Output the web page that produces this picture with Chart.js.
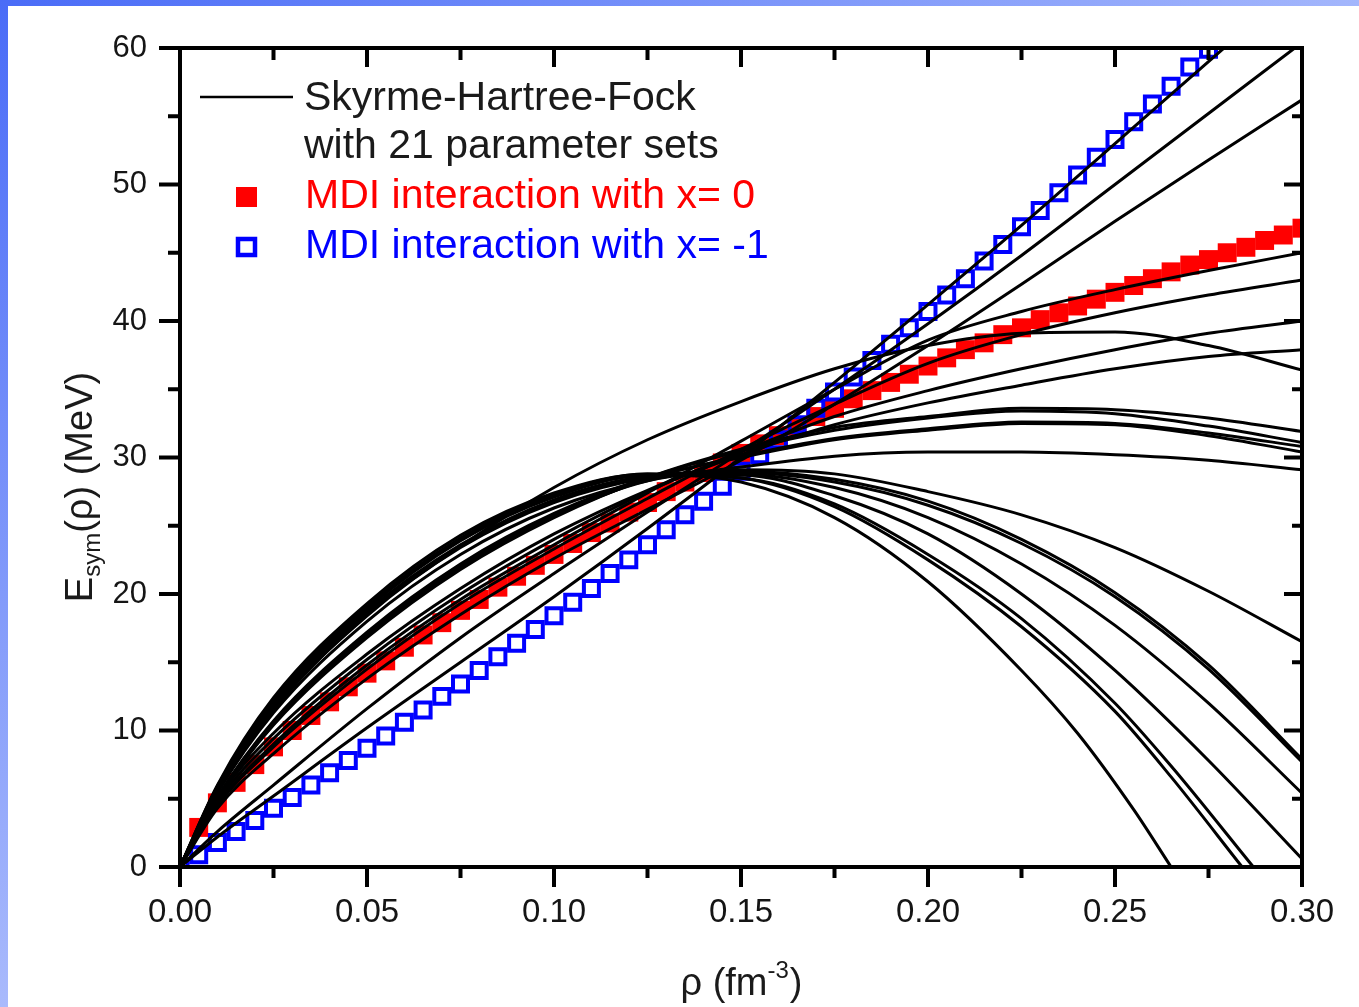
<!DOCTYPE html>
<html>
<head>
<meta charset="utf-8">
<script src="https://cdn.jsdelivr.net/npm/chart.js@4.4.1/dist/chart.umd.min.js"></script>
<style>
html,body{margin:0;padding:0;background:#fff;}
#wrap{position:relative;width:1359px;height:1007px;overflow:hidden;background:#fff;}
#c{position:absolute;left:0;top:0;}
.bt{position:absolute;left:0;top:0;width:1359px;height:6px;background:linear-gradient(90deg,#4a6cf7,#a3b6fc);}
.bl{position:absolute;left:0;top:0;width:8px;height:1007px;background:linear-gradient(#4a6cf7,#a9bafc);}
</style>
</head>
<body>
<div id="wrap"><canvas id="c" width="1359" height="1007"></canvas><div class="bt"></div><div class="bl"></div></div>
<script>
// ---------- data ----------
const X_TICKS = [0, 0.05, 0.10, 0.15, 0.20, 0.25, 0.30];
const Y_TICKS = [0, 10, 20, 30, 40, 50, 60];

// MDI markers (every 0.005 fm^-3)
const RHO_MDI = [0,0.005,0.01,0.015,0.02,0.025,0.03,0.035,0.04,0.045,0.05,0.055,0.06,0.065,0.07,0.075,0.08,0.085,0.09,0.095,0.1,0.105,0.11,0.115,0.12,0.125,0.13,0.135,0.14,0.145,0.15,0.155,0.16,0.165,0.17,0.175,0.18,0.185,0.19,0.195,0.2,0.205,0.21,0.215,0.22,0.225,0.23,0.235,0.24,0.245,0.25,0.255,0.26,0.265,0.27,0.275,0.28,0.285,0.29,0.295,0.3];
const E_MDI_X0 = [null,2.9,4.7,6.2,7.5,8.8,10.0,11.1,12.1,13.2,14.2,15.1,16.1,17.0,17.9,18.8,19.6,20.5,21.3,22.1,22.9,23.7,24.5,25.2,26.0,26.7,27.5,28.2,28.9,29.6,30.3,31.0,31.6,32.3,33.0,33.6,34.3,34.9,35.5,36.1,36.7,37.3,37.9,38.4,39.0,39.5,40.1,40.6,41.1,41.6,42.1,42.6,43.1,43.6,44.1,44.5,45.0,45.4,45.9,46.3,46.8];
const E_MDI_XM1 = [0,0.9,1.8,2.6,3.4,4.3,5.1,6.0,6.9,7.8,8.7,9.6,10.6,11.5,12.5,13.4,14.4,15.4,16.4,17.4,18.4,19.4,20.4,21.5,22.5,23.6,24.7,25.8,26.8,27.9,29.0,30.2,31.3,32.4,33.6,34.8,35.9,37.1,38.3,39.5,40.7,41.9,43.1,44.4,45.6,46.9,48.1,49.4,50.7,52.0,53.3,54.6,55.9,57.2,58.6,59.9,61.3,null,null,null,null];

// Skyrme-Hartree-Fock curves: [rho, Esym] pairs
const shf01 = [[0,0],[0.01,2.2],[0.025,5.2],[0.05,10.2],[0.075,15.0],[0.1,19.8],[0.125,24.8],[0.15,30.0],[0.175,35.5],[0.2,41.2],[0.225,47.0],[0.25,53.0],[0.275,59.0],[0.3,65.0]];
const shf02 = [[0,0],[0.01,2.6],[0.025,6.0],[0.05,11.6],[0.075,16.8],[0.1,21.5],[0.125,26.0],[0.15,30.4],[0.175,35.0],[0.2,39.8],[0.225,44.8],[0.25,50.0],[0.275,55.2],[0.3,60.4]];
const shf03 = [[0,0],[0.01,4.3],[0.025,8.3],[0.05,13.8],[0.075,18.5],[0.1,22.6],[0.125,26.2],[0.15,29.8],[0.175,33.9],[0.2,38.2],[0.225,42.7],[0.25,47.3],[0.275,51.8],[0.3,56.2]];
const shf04 = [[0,0],[0.01,4.6],[0.025,9.0],[0.05,14.8],[0.075,19.6],[0.1,23.6],[0.125,27.4],[0.15,31.2],[0.175,35.0],[0.2,38.6],[0.225,40.7],[0.25,42.3],[0.275,43.7],[0.3,45.0]];
const shf05 = [[0,0],[0.01,4.5],[0.025,8.8],[0.05,14.5],[0.075,19.3],[0.1,23.3],[0.125,27.0],[0.15,30.6],[0.175,33.9],[0.2,36.9],[0.225,39.0],[0.25,40.6],[0.275,41.9],[0.3,43.0]];
const shf06 = [[0,0],[0.01,4.8],[0.025,9.4],[0.05,15.2],[0.075,20.0],[0.1,24.0],[0.125,27.5],[0.15,30.4],[0.175,33.0],[0.2,34.9],[0.225,36.5],[0.25,37.9],[0.275,39.1],[0.3,40.0]];
const shf07 = [[0,0],[0.01,5.0],[0.025,9.8],[0.05,15.6],[0.075,20.4],[0.1,24.4],[0.125,27.6],[0.15,30.2],[0.175,32.4],[0.2,34.0],[0.225,35.3],[0.25,36.5],[0.275,37.4],[0.3,37.9]];
const shf08 = [[0,0],[0.01,5.5],[0.025,11.5],[0.05,18.5],[0.075,23.5],[0.1,27.8],[0.125,31.3],[0.15,34.1],[0.175,36.5],[0.2,38.2],[0.225,39.1],[0.25,39.2],[0.275,38.2],[0.3,36.4]];
const shf09 = [[0,0],[0.01,5.0],[0.025,10.4],[0.05,16.8],[0.075,21.8],[0.1,25.6],[0.125,28.5],[0.15,30.6],[0.175,32.2],[0.2,33.0],[0.225,33.6],[0.25,33.5],[0.275,32.9],[0.3,31.9]];
const shf10 = [[0,0],[0.01,5.0],[0.025,10.5],[0.05,17.0],[0.075,22.0],[0.1,25.8],[0.125,28.5],[0.15,30.5],[0.175,32.0],[0.2,32.9],[0.225,33.4],[0.25,33.2],[0.275,32.3],[0.3,31.1]];
const shf11 = [[0,0],[0.01,5.1],[0.025,10.7],[0.05,17.2],[0.075,22.2],[0.1,25.9],[0.125,28.5],[0.15,30.0],[0.175,31.3],[0.2,32.0],[0.225,32.5],[0.25,32.4],[0.275,31.6],[0.3,30.4]];
const shf12 = [[0,0],[0.01,5.1],[0.025,10.6],[0.05,17.1],[0.075,22.1],[0.1,25.8],[0.125,28.3],[0.15,29.3],[0.175,30.1],[0.2,30.4],[0.225,30.4],[0.25,30.2],[0.275,29.8],[0.3,29.1]];
const shf13 = [[0,0],[0.01,5.0],[0.025,10.5],[0.05,17.0],[0.075,22.0],[0.1,25.7],[0.125,28.4],[0.15,30.1],[0.175,31.4],[0.2,32.1],[0.225,32.6],[0.25,32.5],[0.275,31.8],[0.3,30.8]];
const shf14 = [[0,0],[0.01,5.4],[0.025,11.3],[0.05,18.0],[0.075,22.9],[0.1,26.3],[0.125,28.3],[0.15,29.1],[0.175,28.8],[0.2,27.5],[0.225,25.8],[0.25,23.4],[0.275,20.2],[0.3,16.5]];
const shf15 = [[0,0],[0.01,5.6],[0.025,11.7],[0.05,18.5],[0.075,23.5],[0.1,26.8],[0.125,28.6],[0.15,29.0],[0.175,28.4],[0.2,26.8],[0.225,24.0],[0.25,20.1],[0.275,14.8],[0.3,7.9]];
const shf16 = [[0,0],[0.01,5.6],[0.025,11.6],[0.05,18.4],[0.075,23.4],[0.1,26.7],[0.125,28.5],[0.15,28.9],[0.175,28.2],[0.2,26.5],[0.225,23.7],[0.25,19.8],[0.275,14.5],[0.3,7.7]];
const shf17 = [[0,0],[0.01,5.7],[0.025,11.8],[0.05,18.7],[0.075,23.6],[0.1,26.9],[0.125,28.6],[0.15,28.8],[0.175,27.8],[0.2,25.6],[0.225,22.2],[0.25,17.7],[0.275,12.0],[0.3,5.4]];
const shf18 = [[0,0],[0.01,5.8],[0.025,12.0],[0.05,18.9],[0.075,23.9],[0.1,27.1],[0.125,28.7],[0.15,28.7],[0.175,27.2],[0.2,24.4],[0.225,20.0],[0.25,14.4],[0.275,7.8],[0.3,0.6]];
const shf19 = [[0,0],[0.01,6.0],[0.025,12.4],[0.05,19.3],[0.075,24.3],[0.1,27.4],[0.125,28.8],[0.15,28.2],[0.175,25.6],[0.2,20.9],[0.225,14.4],[0.24,9.8],[0.255,4.2],[0.265,0]];
const shf20 = [[0,0],[0.01,5.9],[0.025,12.2],[0.05,19.1],[0.075,24.1],[0.1,27.3],[0.125,28.8],[0.15,28.5],[0.175,26.4],[0.2,22.5],[0.225,17.6],[0.25,11.4],[0.265,6.6],[0.284,0]];
const shf21 = [[0,0],[0.01,5.9],[0.025,12.1],[0.05,19.0],[0.075,24.0],[0.1,27.2],[0.125,28.7],[0.15,28.5],[0.175,26.6],[0.2,22.9],[0.225,18.2],[0.25,12.0],[0.265,7.4],[0.287,0]];
const SHF_CURVES = [shf01,shf02,shf03,shf04,shf05,shf06,shf07,shf08,shf09,shf10,shf11,shf12,shf13,shf14,shf15,shf16,shf17,shf18,shf19,shf20,shf21];

const LEGEND_SHF = ['Skyrme-Hartree-Fock', 'with 21 parameter sets'];
const LEGEND_X0 = 'MDI interaction with x= 0';
const LEGEND_XM1 = 'MDI interaction with x= -1';

// ---------- chart ----------
const FONT = '"Liberation Sans", Arial, Helvetica, sans-serif';
const datasets = [];
SHF_CURVES.forEach((c, i) => {
  datasets.push({
    type: 'line', label: i === 0 ? LEGEND_SHF.join(' ') : 'SHF ' + (i + 1),
    data: c.map(p => ({x: p[0], y: p[1]})),
    borderColor: '#000', borderWidth: 3, pointRadius: 0, fill: false,
    cubicInterpolationMode: 'monotone', order: 0, clip: 0
  });
});
datasets.push({
  type: 'scatter', label: LEGEND_X0,
  data: RHO_MDI.map((r, i) => ({x: r, y: E_MDI_X0[i]})).filter(p => p.y !== null),
  pointStyle: 'rect', pointRadius: 13.4, pointBackgroundColor: '#ff0000', pointBorderWidth: 0,
  backgroundColor: '#ff0000', borderColor: '#ff0000', order: 2, clip: 0
});
datasets.push({
  type: 'scatter', label: LEGEND_XM1,
  data: RHO_MDI.map((r, i) => ({x: r, y: E_MDI_XM1[i]})).filter(p => p.y !== null),
  pointStyle: 'rect', pointRadius: 10.6, pointBackgroundColor: 'rgba(0,0,0,0)', pointBorderColor: '#0000ff', pointBorderWidth: 4,
  backgroundColor: 'rgba(0,0,0,0)', borderColor: '#0000ff', order: 1, clip: 0
});

const framePlugin = {
  id: 'frameTicks',
  afterDatasetsDraw(chart) {
    const {ctx, chartArea: a, scales: {x, y}} = chart;
    ctx.save();
    ctx.strokeStyle = '#000';
    ctx.lineWidth = 4;
    ctx.lineCap = 'butt';
    ctx.strokeRect(a.left, a.top, a.right - a.left, a.bottom - a.top);
    const xm = X_TICKS, ym = Y_TICKS;
    const xMinor = [], yMinor = [];
    for (let i = 0; i < xm.length - 1; i++) xMinor.push((xm[i] + xm[i + 1]) / 2);
    for (let i = 0; i < ym.length - 1; i++) yMinor.push((ym[i] + ym[i + 1]) / 2);
    ctx.beginPath();
    xm.forEach(v => { const p = x.getPixelForValue(v);
      ctx.moveTo(p, a.bottom); ctx.lineTo(p, a.bottom + 20);
      ctx.moveTo(p, a.top); ctx.lineTo(p, a.top + 19); });
    xMinor.forEach(v => { const p = x.getPixelForValue(v);
      ctx.moveTo(p, a.bottom); ctx.lineTo(p, a.bottom + 11);
      ctx.moveTo(p, a.top); ctx.lineTo(p, a.top + 12); });
    ym.forEach(v => { const p = y.getPixelForValue(v);
      ctx.moveTo(a.left, p); ctx.lineTo(a.left - 21, p);
      ctx.moveTo(a.right, p); ctx.lineTo(a.right - 18, p); });
    yMinor.forEach(v => { const p = y.getPixelForValue(v);
      ctx.moveTo(a.left, p); ctx.lineTo(a.left - 12, p);
      ctx.moveTo(a.right, p); ctx.lineTo(a.right - 10, p); });
    ctx.stroke();
    ctx.restore();
  },
  afterDraw(chart) {
    const {ctx, chartArea: a} = chart;
    ctx.save();
    // legend
    ctx.strokeStyle = '#000'; ctx.lineWidth = 2.5;
    ctx.beginPath(); ctx.moveTo(200, 97); ctx.lineTo(293, 97); ctx.stroke();
    ctx.font = '41px ' + FONT;
    ctx.textBaseline = 'alphabetic'; ctx.textAlign = 'left';
    ctx.fillStyle = '#1a1a1a';
    ctx.fillText(LEGEND_SHF[0], 304, 110);
    ctx.fillText(LEGEND_SHF[1], 304, 158);
    ctx.fillStyle = '#ff0000';
    ctx.fillRect(236, 187, 21, 20);
    ctx.fillText(LEGEND_X0, 305, 208);
    ctx.strokeStyle = '#0000ff'; ctx.lineWidth = 4.5;
    ctx.strokeRect(238, 239, 17, 16);
    ctx.fillStyle = '#0000ff';
    ctx.fillText(LEGEND_XM1, 305, 258);

    // x title: rho (fm^-3)
    ctx.fillStyle = '#1a1a1a';
    const F = 38, FS = 24;
    const t1 = 'ρ (fm', sup = '-3', t2 = ')';
    ctx.font = F + 'px ' + FONT; const w1 = ctx.measureText(t1).width;
    ctx.font = FS + 'px ' + FONT; const ws = ctx.measureText(sup).width;
    ctx.font = F + 'px ' + FONT; const w2 = ctx.measureText(t2).width;
    const cx = (a.left + a.right) / 2;
    let sx = cx - (w1 + ws + w2) / 2;
    const by = 995;
    ctx.fillText(t1, sx, by); sx += w1;
    ctx.font = FS + 'px ' + FONT; ctx.fillText(sup, sx, by - 17); sx += ws;
    ctx.font = F + 'px ' + FONT; ctx.fillText(t2, sx + 1, by);

    // y title: E_sym(rho) (MeV)
    ctx.translate(92, 487);
    ctx.rotate(-Math.PI / 2);
    const p1 = 'E', sub = 'sym', p2 = '(ρ) (MeV)';
    ctx.font = F + 'px ' + FONT; const q1 = ctx.measureText(p1).width;
    ctx.font = FS + 'px ' + FONT; const qs = ctx.measureText(sub).width;
    ctx.font = F + 'px ' + FONT; const q2 = ctx.measureText(p2).width;
    let tx = -(q1 + qs + q2) / 2;
    ctx.fillText(p1, tx, 0); tx += q1;
    ctx.font = FS + 'px ' + FONT; ctx.fillText(sub, tx, 8); tx += qs;
    ctx.font = F + 'px ' + FONT; ctx.fillText(p2, tx, 0);
    ctx.restore();
  }
};

new Chart(document.getElementById('c'), {
  data: {datasets},
  options: {
    responsive: false, animation: false, devicePixelRatio: 1,
    layout: {padding: {left: 0, right: 57, top: 48, bottom: 0}},
    plugins: {legend: {display: false}, tooltip: {enabled: false}, title: {display: false}},
    scales: {
      x: {
        type: 'linear', min: 0, max: 0.3,
        grid: {display: false}, border: {display: false},
        afterBuildTicks: s => { s.ticks = X_TICKS.map(v => ({value: v})); },
        ticks: {callback: v => Number(v).toFixed(2), font: {family: FONT, size: 33}, color: '#151515', padding: 18, maxRotation: 0, autoSkip: false},
        afterFit: s => { s.height = 140; }
      },
      y: {
        type: 'linear', min: 0, max: 60,
        grid: {display: false}, border: {display: false},
        afterBuildTicks: s => { s.ticks = Y_TICKS.map(v => ({value: v})); },
        ticks: {callback: v => String(v), font: {family: FONT, size: 31}, color: '#151515', padding: 25},
        afterFit: s => { s.width = 180; }
      }
    }
  },
  plugins: [framePlugin]
});
</script>
</body>
</html>
